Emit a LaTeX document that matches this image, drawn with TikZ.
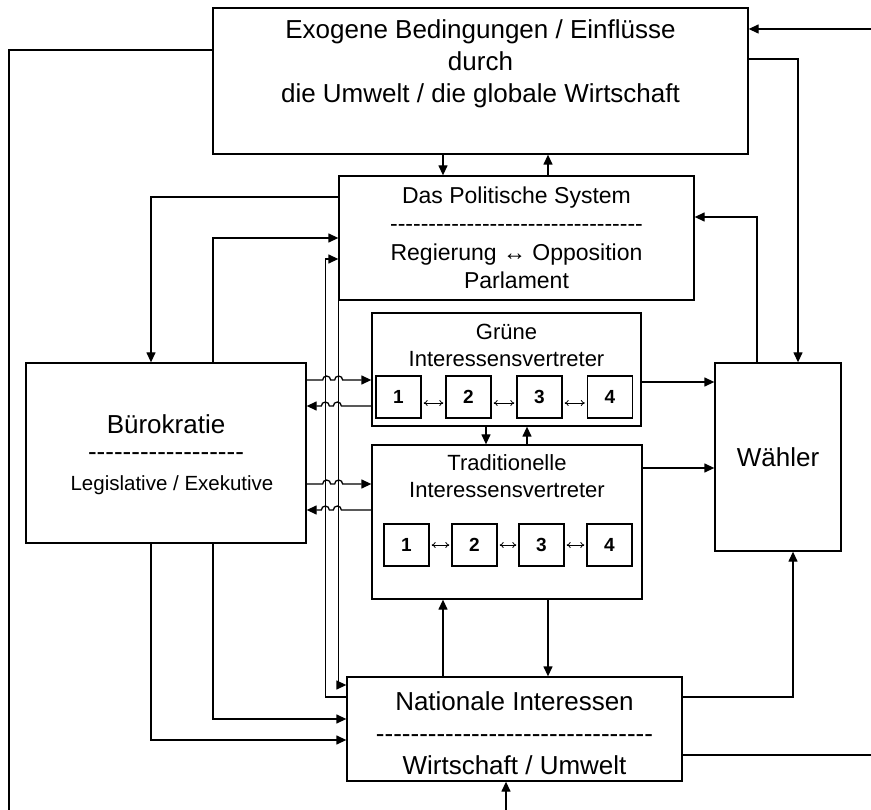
\documentclass[tikz,border=0pt]{standalone}
\usepackage{fontspec}
\setmainfont{Liberation Sans}[Ligatures=TeXOff]
\usetikzlibrary{arrows.meta}
\tikzset{panel/.style={draw,line width=1.3pt,inner sep=0pt},numbox/.style={draw,line width=1.3pt,minimum width=45pt,minimum height=42pt,inner sep=0pt,font=\bfseries\fontsize{19}{21}\selectfont},txt/.style={align=center,inner sep=0pt},flow/.style={line width=1.3pt,-{Triangle[length=10pt,width=9pt]}},wire/.style={line width=1.3pt},twoway/.style={line width=.8pt,{To[length=4pt,width=6pt]}-{To[length=4pt,width=6pt]},shorten <=2pt,shorten >=2pt}}

\begin{document}
\begin{tikzpicture}[x=1pt,y=-1pt]
\useasboundingbox (0,0) rectangle (871,810);
% boxes
\node[panel,minimum width=535pt,minimum height=146pt] (exo) at (480.5,81) {};
\node[panel,minimum width=355pt,minimum height=124pt] (pol) at (516.5,238) {};
\node[panel,minimum width=280pt,minimum height=180pt] (bur) at (166,453) {};
\node[panel,minimum width=269pt,minimum height=113pt] (gru) at (506.5,369.5) {};
\node[panel,minimum width=270pt,minimum height=154pt] (tra) at (507,522) {};
\node[panel,minimum width=126pt,minimum height=188pt] (wah) at (778,457) {};
\node[panel,minimum width=335pt,minimum height=104pt] (nat) at (514.5,729) {};
% texts
\node[txt,font=\fontsize{26}{32}\selectfont] (exotxt) at (480.5,63.5) {Exogene Bedingungen / Einflüsse\\durch\\die Umwelt / die globale Wirtschaft};
\node[txt,font=\fontsize{23}{28.5}\selectfont] (poltxt) at (516.5,238) {Das Politische System\\---------------------------------\\Regierung ↔ Opposition\\Parlament};
\node[txt,font=\fontsize{26}{30}\selectfont] (burtxt) at (166,424) {Bürokratie};
\node[txt,font=\fontsize{26}{30}\selectfont] (burdash) at (166,457) {------------------};
\node[txt,font=\fontsize{20.5}{24}\selectfont] (bursub) at (172,485) {Legislative / Exekutive};
\node[txt,font=\fontsize{22}{27}\selectfont] (grutxt) at (506.5,345.5) {Grüne\\Interessensvertreter};
\node[txt,font=\fontsize{22}{27}\selectfont] (tratxt) at (507,476.5) {Traditionelle\\Interessensvertreter};
\node[txt,font=\fontsize{26}{30}\selectfont] (wahtxt) at (778,457) {Wähler};
\node[txt,font=\fontsize{26}{32}\selectfont] (nattxt) at (514.5,733) {Nationale Interessen\\--------------------------------\\Wirtschaft / Umwelt};
% groups 1-4
\foreach \n/\x in {1/398.5,2/468.5,3/539.5,4/610} \node[numbox] (g\n) at (\x,397) {\n};
\foreach \n/\x in {1/406.5,2/474.5,3/541.5,4/609.5} \node[numbox] (t\n) at (\x,545) {\n};
\foreach \a/\b in {1/2,2/3,3/4} {\draw[twoway] ([yshift=-6pt]g\a.east) -- ([yshift=-6pt]g\b.west); \draw[twoway] (t\a) -- (t\b);}
% outside ends
\coordinate (inR) at (871,29);
\coordinate (inB) at (506,810);
\coordinate (outR) at (871,755);
\coordinate (outBL) at (9,810);
% connectors
\draw[flow] (inR) -- (inR -| exo.east);
\draw[flow] ([yshift=22pt]exo.east) -| ([xshift=20pt]wah.north);
\draw[wire] ([yshift=31pt]exo.west) -| (outBL);
\draw[flow] ([xshift=-37.5pt]exo.south) -- ([xshift=-73.5pt]pol.north);
\draw[flow] ([xshift=31.5pt]pol.north) -- ([xshift=67.5pt]exo.south);
\draw[flow] ([xshift=-21pt]wah.north) |- ([yshift=21pt]pol.east);
\draw[flow] ([yshift=41pt]pol.west) -| ([xshift=-15pt]bur.north);
\draw[flow] ([xshift=47pt]bur.north) |- (pol.west);
\draw[flow] ([yshift=32pt]nat.west) -- ++(-21,0) |- ([yshift=-21pt]pol.west);
\draw[flow] (pol.south west) |- ([yshift=44pt]nat.west);
\draw[flow] ([xshift=-15pt]bur.south) |- ([yshift=-11pt]nat.west);
\draw[flow] ([xshift=47pt]bur.south) |- ([yshift=10pt]nat.west);
\draw[flow] ([yshift=73pt]bur.east) -- ++(16,0) arc[start angle=180,end angle=0,radius=4pt] -- ++(4,0) arc[start angle=180,end angle=0,radius=4pt] -- ([yshift=-10.5pt]gru.west);
\draw[flow] ([yshift=-36.5pt]gru.west) -- ++(-30,0) arc[start angle=0,end angle=180,radius=4pt] -- ++(-4,0) arc[start angle=0,end angle=180,radius=4pt] -- ([yshift=47pt]bur.east);
\draw[flow] ([yshift=-31pt]bur.east) -- ++(16,0) arc[start angle=180,end angle=0,radius=4pt] -- ++(4,0) arc[start angle=180,end angle=0,radius=4pt] -- ([yshift=38pt]tra.west);
\draw[flow] ([yshift=12pt]tra.west) -- ++(-30,0) arc[start angle=0,end angle=180,radius=4pt] -- ++(-4,0) arc[start angle=0,end angle=180,radius=4pt] -- ([yshift=-57pt]bur.east);
\draw[flow] ([yshift=-12.5pt]gru.east) -- ([yshift=75pt]wah.west);
\draw[flow] ([yshift=54pt]tra.east) -- ([yshift=-11pt]wah.west);
\draw[flow] ([xshift=-20.5pt]gru.south) -- ([xshift=-21pt]tra.north);
\draw[flow] ([xshift=20pt]tra.north) -- ([xshift=20.5pt]gru.south);
\draw[flow] ([xshift=-71.5pt]nat.north) -- ([xshift=-64pt]tra.south);
\draw[flow] ([xshift=41pt]tra.south) -- ([xshift=33.5pt]nat.north);
\draw[flow] ([yshift=32pt]nat.east) -| ([xshift=15pt]wah.south);
\draw[wire] ([yshift=-26pt]nat.east) -- (outR);
\draw[flow] (inB) -- (inB |- nat.south);
\end{tikzpicture}
\end{document}
